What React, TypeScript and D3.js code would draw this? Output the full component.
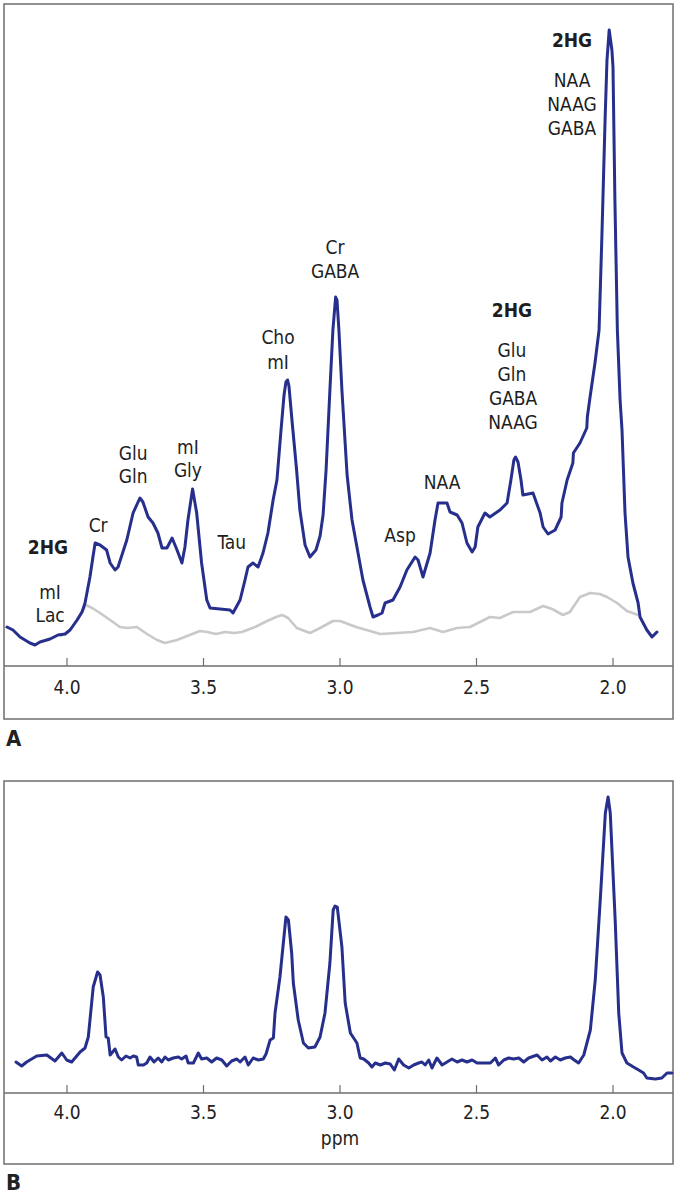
import { useEffect, useRef } from 'react';
import * as d3 from 'd3';

const tickValues = [4.0, 3.5, 3.0, 2.5, 2.0];

// panel A – blue spectrum (ppm, arbitrary amplitude)
const ppmA = [
  4.22, 4.198, 4.172, 4.136, 4.117, 4.099, 4.062, 4.033, 4.007, 3.989, 3.963, 3.945, 3.934, 3.916, 3.905, 3.897,
  3.879, 3.855, 3.842, 3.824, 3.813, 3.781, 3.758, 3.733, 3.722, 3.703, 3.685, 3.667, 3.652, 3.634, 3.615, 3.597,
  3.579, 3.568, 3.557, 3.54, 3.525, 3.507, 3.488, 3.476, 3.403, 3.392, 3.366, 3.348, 3.337, 3.319, 3.3, 3.282,
  3.264, 3.245, 3.231, 3.216, 3.205, 3.198, 3.192, 3.187, 3.176, 3.159, 3.147, 3.128, 3.11, 3.088, 3.073, 3.062,
  3.051, 3.037, 3.026, 3.016, 3.011, 3.004, 2.993, 2.974, 2.956, 2.938, 2.916, 2.89, 2.879, 2.861, 2.846, 2.835,
  2.806, 2.78, 2.755, 2.725, 2.714, 2.696, 2.67, 2.652, 2.641, 2.608, 2.597, 2.571, 2.553, 2.535, 2.516, 2.505,
  2.495, 2.469, 2.451, 2.414, 2.388, 2.374, 2.363, 2.357, 2.348, 2.337, 2.33, 2.311, 2.293, 2.267, 2.256, 2.238,
  2.212, 2.19, 2.187, 2.168, 2.147, 2.145, 2.121, 2.096, 2.094, 2.084, 2.066, 2.051, 2.04, 2.029, 2.022, 2.014,
  2.004, 2.0, 1.993, 1.984, 1.974, 1.967, 1.956, 1.945, 1.927, 1.908, 1.901, 1.876, 1.857, 1.839,
];
const ampA = [
  39, 36, 29, 23, 21, 24, 27, 31, 32, 36, 46, 54, 63, 89, 109, 123,
  121, 116, 103, 96, 99, 126, 153, 168, 164, 149, 143, 133, 118, 118, 128, 116,
  103, 119, 146, 177, 153, 103, 66, 58, 56, 53, 66, 86, 99, 103, 99, 113,
  133, 166, 186, 236, 271, 284, 286, 280, 246, 196, 156, 121, 109, 116, 130, 151,
  196, 276, 336, 369, 366, 336, 276, 191, 146, 119, 86, 59, 49, 51, 53, 63,
  66, 79, 96, 109, 106, 89, 113, 146, 163, 163, 154, 151, 143, 123, 114, 119,
  139, 153, 149, 156, 163, 186, 206, 209, 204, 186, 171, 172, 173, 153, 139, 132,
  136, 149, 163, 186, 203, 213, 223, 238, 249, 269, 303, 336, 436, 546, 606, 636,
  616, 599, 466, 336, 266, 236, 153, 109, 83, 63, 49, 36, 29, 34,
];

// panel A – grey reference spectrum
const ppmGreyA = [
  4.026, 4.0, 3.982, 3.963, 3.945, 3.93, 3.908, 3.879, 3.842, 3.806, 3.78, 3.744, 3.707, 3.67, 3.641, 3.597,
  3.56, 3.513, 3.487, 3.454, 3.421, 3.388, 3.359, 3.311, 3.267, 3.234, 3.212, 3.19, 3.158, 3.11, 3.073, 3.026,
  3.0, 2.941, 2.89, 2.853, 2.791, 2.733, 2.67, 2.623, 2.571, 2.524, 2.487, 2.451, 2.414, 2.366, 2.304, 2.256,
  2.223, 2.183, 2.158, 2.121, 2.084, 2.048, 2.022, 1.985, 1.949, 1.908,
];
const ampGreyA = [
  30, 33, 38, 46, 54, 61, 58, 53, 46, 39, 38, 39, 32, 26, 23, 26,
  30, 35, 34, 32, 34, 33, 34, 39, 45, 49, 51, 48, 38, 33, 38, 45,
  45, 39, 35, 32, 33, 34, 38, 34, 38, 39, 44, 49, 48, 54, 54, 60,
  57, 51, 54, 69, 73, 72, 69, 63, 55, 51,
];

// panel B – blue spectrum
const ppmB = [
  4.187, 4.166, 4.148, 4.111, 4.074, 4.044, 4.019, 4.001, 3.983, 3.952, 3.934, 3.922, 3.904, 3.888, 3.879, 3.867,
  3.857, 3.849, 3.842, 3.824, 3.812, 3.8, 3.784, 3.769, 3.757, 3.745, 3.739, 3.72, 3.708, 3.696, 3.681, 3.666,
  3.653, 3.641, 3.629, 3.611, 3.592, 3.58, 3.564, 3.556, 3.537, 3.519, 3.507, 3.488, 3.47, 3.452, 3.433, 3.415,
  3.397, 3.378, 3.366, 3.348, 3.336, 3.318, 3.299, 3.281, 3.271, 3.256, 3.244, 3.238, 3.22, 3.198, 3.189, 3.177,
  3.171, 3.153, 3.134, 3.116, 3.092, 3.073, 3.055, 3.037, 3.025, 3.018, 3.01, 2.993, 2.981, 2.962, 2.938, 2.926,
  2.913, 2.895, 2.883, 2.871, 2.852, 2.834, 2.816, 2.801, 2.785, 2.767, 2.748, 2.73, 2.712, 2.7, 2.688, 2.675,
  2.663, 2.645, 2.626, 2.608, 2.59, 2.571, 2.553, 2.535, 2.516, 2.498, 2.474, 2.449, 2.431, 2.419, 2.4, 2.382,
  2.364, 2.345, 2.327, 2.309, 2.278, 2.26, 2.242, 2.229, 2.211, 2.193, 2.175, 2.156, 2.142, 2.126, 2.107, 2.083,
  2.065, 2.046, 2.028, 2.018, 2.01, 1.992, 1.979, 1.967, 1.949, 1.925, 1.906, 1.888, 1.876, 1.845, 1.821, 1.802,
  1.784,
];
const ampB = [
  31, 27, 31, 37, 38, 32, 40, 33, 31, 41, 45, 56, 106, 121, 118, 96,
  56, 55, 38, 44, 36, 33, 37, 35, 37, 36, 28, 28, 30, 36, 31, 35,
  31, 36, 33, 35, 36, 34, 37, 30, 30, 40, 34, 35, 31, 35, 33, 27,
  32, 34, 31, 36, 28, 35, 33, 34, 39, 53, 55, 80, 116, 176, 173, 140,
  110, 73, 50, 45, 46, 56, 80, 130, 183, 187, 186, 146, 90, 60, 50, 35,
  34, 30, 26, 30, 28, 30, 29, 23, 34, 28, 25, 28, 30, 31, 28, 33,
  25, 35, 28, 31, 34, 31, 33, 31, 33, 30, 30, 30, 35, 28, 33, 35,
  34, 35, 31, 35, 38, 33, 36, 32, 36, 33, 35, 36, 33, 30, 38, 63,
  113, 196, 280, 296, 280, 173, 80, 40, 30, 26, 23, 20, 15, 14, 15, 20,
  20,
];

const labelsA = [
  { text: '2HG', ppm: 4.07, amp: 119, bold: true },
  { text: 'mI', ppm: 4.062, amp: 74 },
  { text: 'Lac', ppm: 4.062, amp: 51 },
  { text: 'Cr', ppm: 3.886, amp: 141 },
  { text: 'Glu', ppm: 3.758, amp: 213 },
  { text: 'Gln', ppm: 3.758, amp: 190 },
  { text: 'mI', ppm: 3.557, amp: 219 },
  { text: 'Gly', ppm: 3.557, amp: 196 },
  { text: 'Tau', ppm: 3.396, amp: 124 },
  { text: 'Cho', ppm: 3.227, amp: 329 },
  { text: 'mI', ppm: 3.227, amp: 304 },
  { text: 'Cr', ppm: 3.018, amp: 419 },
  { text: 'GABA', ppm: 3.018, amp: 395 },
  { text: 'Asp', ppm: 2.78, amp: 131 },
  { text: 'NAA', ppm: 2.626, amp: 184 },
  { text: '2HG', ppm: 2.37, amp: 356, bold: true },
  { text: 'Glu', ppm: 2.37, amp: 316 },
  { text: 'Gln', ppm: 2.37, amp: 292 },
  { text: 'GABA', ppm: 2.366, amp: 268 },
  { text: 'NAAG', ppm: 2.366, amp: 244 },
  { text: '2HG', ppm: 2.15, amp: 626, bold: true },
  { text: 'NAA', ppm: 2.15, amp: 586 },
  { text: 'NAAG', ppm: 2.15, amp: 562 },
  { text: 'GABA', ppm: 2.15, amp: 538 },
];

const FONT = "'Liberation Sans Narrow', 'DejaVu Sans Condensed', 'Arial Narrow', sans-serif";

export default function App() {
  const svgRef = useRef<SVGSVGElement>(null);

  useEffect(() => {
    if (!svgRef.current) return;
    const svg = d3.select(svgRef.current);
    svg.selectAll('*').remove();

    const left = 4;
    const right = 673;
    const x = d3.scaleLinear().domain([4.2308, 1.7802]).range([left, right]);

    const panels = [
      { top: 4, axisY: 666, bottom: 719, ampMax: 662, letter: 'A', letterY: 738, tickY: 687, ppm: false },
      { top: 781, axisY: 1093, bottom: 1164, ampMax: 312, letter: 'B', letterY: 1182, tickY: 1112, ppm: true },
    ];

    panels.forEach((p, pi) => {
      const y = d3.scaleLinear().domain([0, p.ampMax]).range([p.axisY, p.top]);
      const g = svg.append('g');

      g.append('rect')
        .attr('x', left)
        .attr('y', p.top)
        .attr('width', right - left)
        .attr('height', p.bottom - p.top)
        .attr('fill', 'none')
        .attr('stroke', '#6e6e6e')
        .attr('stroke-width', 1.5);

      g.append('line')
        .attr('x1', left).attr('x2', right)
        .attr('y1', p.axisY).attr('y2', p.axisY)
        .attr('stroke', '#6e6e6e')
        .attr('stroke-width', 1.5);

      tickValues.forEach(t => {
        g.append('line')
          .attr('x1', x(t)).attr('x2', x(t))
          .attr('y1', p.axisY - 8).attr('y2', p.axisY)
          .attr('stroke', '#6e6e6e')
          .attr('stroke-width', 1.2);
        g.append('text')
          .attr('x', x(t))
          .attr('y', p.tickY)
          .attr('dy', '0.35em')
          .attr('text-anchor', 'middle')
          .attr('font-family', FONT)
          .attr('font-size', 19)
          .attr('fill', '#222')
          .text(t.toFixed(1));
      });

      if (p.ppm) {
        g.append('text')
          .attr('x', x(3.0))
          .attr('y', p.tickY + 26)
          .attr('dy', '0.35em')
          .attr('text-anchor', 'middle')
          .attr('font-family', FONT)
          .attr('font-size', 19)
          .attr('fill', '#222')
          .text('ppm');
      }

      g.append('text')
        .attr('x', 6)
        .attr('y', p.letterY)
        .attr('dy', '0.35em')
        .attr('font-family', FONT)
        .attr('font-weight', 'bold')
        .attr('font-size', 22)
        .attr('fill', '#222')
        .text(p.letter);

      const line = d3.line<[number, number]>()
        .x(d => x(d[0]))
        .y(d => y(d[1]));

      if (pi === 0) {
        g.append('path')
          .attr('d', line(ppmGreyA.map((v, i) => [v, ampGreyA[i]]))!)
          .attr('fill', 'none')
          .attr('stroke', '#c9c9c9')
          .attr('stroke-width', 2.6)
          .attr('stroke-linejoin', 'round');

        g.append('path')
          .attr('d', line(ppmA.map((v, i) => [v, ampA[i]]))!)
          .attr('fill', 'none')
          .attr('stroke', '#272f8c')
          .attr('stroke-width', 3)
          .attr('stroke-linejoin', 'round')
          .attr('stroke-linecap', 'round');

        labelsA.forEach(l => {
          g.append('text')
            .attr('x', x(l.ppm))
            .attr('y', y(l.amp))
            .attr('dy', '0.35em')
            .attr('text-anchor', 'middle')
            .attr('font-family', FONT)
            .attr('font-size', 19)
            .attr('font-weight', l.bold ? 'bold' : 'normal')
            .attr('fill', '#1e1e1e')
            .text(l.text);
        });
      } else {
        g.append('path')
          .attr('d', line(ppmB.map((v, i) => [v, ampB[i]]))!)
          .attr('fill', 'none')
          .attr('stroke', '#272f8c')
          .attr('stroke-width', 3)
          .attr('stroke-linejoin', 'round')
          .attr('stroke-linecap', 'round');
      }
    });
  }, []);

  return (
    <svg
      ref={svgRef}
      width={677}
      height={1194}
      style={{ position: 'absolute', left: 0, top: 0, background: '#fff' }}
    />
  );
}
